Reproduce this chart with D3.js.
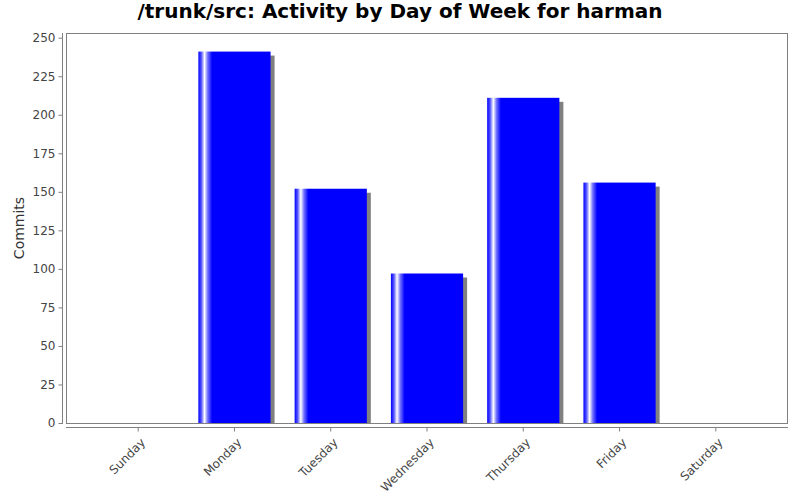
<!DOCTYPE html>
<html>
<head>
<meta charset="utf-8">
<script src="https://cdn.jsdelivr.net/npm/d3@7"></script>
<style>
  body { margin: 0; background: #fff; }
  text { font-family: "DejaVu Sans", sans-serif; }
</style>
</head>
<body>
<div id="chart"></div>
<script>
const days = ['Sunday', 'Monday', 'Tuesday', 'Wednesday', 'Thursday', 'Friday', 'Saturday'];
const commits = [0, 241, 152, 97, 211, 156, 0];
const yTicks = [0, 25, 50, 75, 100, 125, 150, 175, 200, 225, 250];

const dims = { width: 800, height: 500, left: 66, right: 788, top: 33, bottom: 423 };
const plotW = dims.right - dims.left;

const svg = d3.select('#chart').append('svg')
    .attr('width', dims.width)
    .attr('height', dims.height);

// gradient like the java bar painter
const defs = svg.append('defs');
const grad = defs.append('linearGradient')
    .attr('id', 'barGrad')
    .attr('x1', '0%').attr('x2', '100%').attr('y1', '0%').attr('y2', '0%');
[[0, '#0000ff'], [0.04, '#5050ff'], [0.085, '#ffffff'], [0.13, '#7070ff'], [0.19, '#0000ff'], [1, '#0000ff']]
    .forEach(s => grad.append('stop').attr('offset', s[0]).attr('stop-color', s[1]));

defs.append('clipPath').attr('id', 'plotClip')
    .append('rect')
    .attr('x', dims.left).attr('y', dims.top)
    .attr('width', plotW).attr('height', dims.bottom - dims.top);

// Scales: 5% margin on each side, bars take 75% of each step
const xScale = d3.scaleBand()
    .domain(days)
    .range([dims.left + plotW * 0.05, dims.right - plotW * 0.05])
    .paddingInner(0.25)
    .paddingOuter(0);

const yScale = d3.scaleLinear()
    .domain([0, d3.max(commits) * 1.05])
    .range([dims.bottom, dims.top]);

// title
svg.append('text')
    .attr('x', 400)
    .attr('y', 18)
    .attr('text-anchor', 'middle')
    .style('font-size', '20px')
    .style('font-weight', 'bold')
    .attr('fill', '#000')
    .text('/trunk/src: Activity by Day of Week for harman');

const bars = svg.append('g').attr('clip-path', 'url(#plotClip)');

// shadows
bars.selectAll('rect.shadow')
    .data(commits)
    .join('rect')
    .attr('class', 'shadow')
    .attr('x', (d, i) => xScale(days[i]) + 4)
    .attr('y', d => yScale(d) + 4)
    .attr('width', xScale.bandwidth())
    .attr('height', d => d > 0 ? dims.bottom - yScale(d) : 0)
    .attr('fill', '#808080');

bars.selectAll('rect.bar')
    .data(commits)
    .join('rect')
    .attr('class', 'bar')
    .attr('x', (d, i) => xScale(days[i]))
    .attr('y', d => yScale(d))
    .attr('width', xScale.bandwidth())
    .attr('height', d => d > 0 ? dims.bottom - yScale(d) : 0)
    .attr('fill', 'url(#barGrad)');

// plot outline
svg.append('rect')
    .attr('x', dims.left + 0.5).attr('y', dims.top + 0.5)
    .attr('width', plotW - 1).attr('height', dims.bottom - dims.top)
    .attr('fill', 'none')
    .attr('stroke', '#808080');

// y axis
const yAxis = d3.axisLeft(yScale)
    .tickValues(yTicks)
    .tickSize(4)
    .tickPadding(3)
    .tickSizeOuter(0);

const yAxisGroup = svg.append('g')
    .attr('transform', 'translate(62.5, 0)')
    .call(yAxis);

yAxisGroup.select('.domain').attr('stroke', '#808080').attr('d', `M0,${dims.top}V${dims.bottom + 1}`);
yAxisGroup.selectAll('.tick line').attr('stroke', '#808080');
yAxisGroup.selectAll('.tick text')
    .attr('fill', '#444')
    .style('font-size', '12px')
    .style('font-family', '"DejaVu Sans", sans-serif');

svg.append('text')
    .attr('transform', `translate(24, ${(dims.top + dims.bottom) / 2}) rotate(-90)`)
    .attr('text-anchor', 'middle')
    .attr('fill', '#333')
    .style('font-size', '14px')
    .text('Commits');

// x axis
const xAxis = d3.axisBottom(xScale)
    .tickSize(4)
    .tickSizeOuter(0);

const xAxisGroup = svg.append('g')
    .attr('transform', 'translate(0, 427.5)')
    .call(xAxis);

xAxisGroup.select('.domain').attr('stroke', '#808080').attr('d', `M${dims.left},0H${dims.right}`);
xAxisGroup.selectAll('.tick line').attr('stroke', '#808080');
xAxisGroup.selectAll('.tick text')
    .attr('y', 0)
    .attr('transform', 'translate(1, 9) rotate(-45)')
    .attr('text-anchor', 'end')
    .attr('dy', '0.8em')
    .attr('fill', '#444')
    .style('font-size', '12px')
    .style('font-family', '"DejaVu Sans", sans-serif');
</script>
</body>
</html>
